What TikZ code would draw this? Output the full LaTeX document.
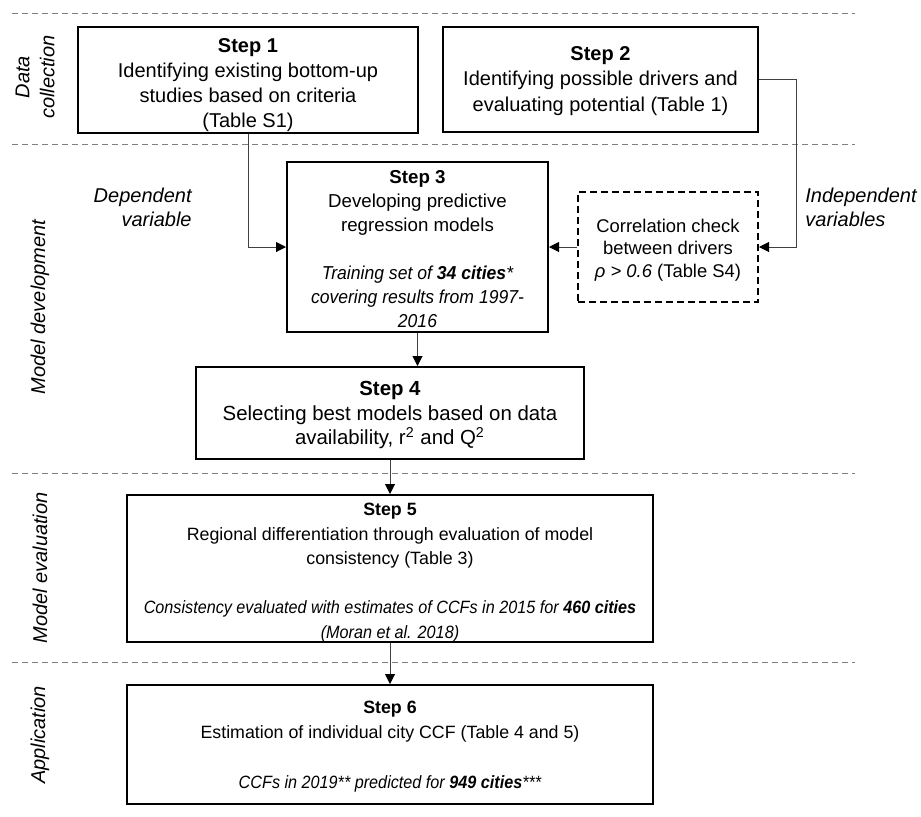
\documentclass[tikz,border=0pt]{standalone}
\usepackage{fontspec}
\setmainfont{Liberation Sans}
\newfontfamily\narrowfont{Liberation Sans}[FakeStretch=0.91]
\newfontfamily\trainfont{Liberation Sans}[FakeStretch=0.94]
\newcommand{\narrowit}[1]{{\narrowfont\itshape #1}}
\newcommand{\trainit}[1]{{\trainfont\itshape #1}}
\newcommand{\topstrut}[1]{\rule{0pt}{#1}}
\usetikzlibrary{arrows.meta}

\begin{document}
\begin{tikzpicture}[x=0.5pt,y=-0.5pt,font=\fontsize{9.2}{12.2}\selectfont,
    >={Triangle[length=5pt,width=5pt,color=black]}]
    \tikzstyle{stepbox}=[draw=black,line width=1pt,align=center,inner sep=0pt]
    \tikzstyle{checkbox}=[stepbox,dash pattern=on 3.5pt off 2pt]
    \tikzstyle{phase}=[rotate=90,align=center,font=\fontsize{10}{12.5}\selectfont\itshape]
    \tikzstyle{annot}=[align=left,inner sep=0pt,font=\fontsize{10}{12}\selectfont\itshape]
    \tikzstyle{link}=[->,draw=black!75,line width=0.5pt]
    \tikzstyle{sep}=[draw=black!50,dash pattern=on 3pt off 2pt,line width=0.5pt]

    \useasboundingbox (0,0) rectangle (921,816);

    % Phase separators
    \foreach \y in {13,144,473,662}
        \draw[sep] (12,\y) -- (855,\y);

    % Phase labels
    \node[phase] (pdata) at (35,77) {Data\\collection};
    \node[phase] (pdev) at (40,307) {Model development};
    \node[phase] (peval) at (40,568) {Model evaluation};
    \node[phase] (papp) at (40,735) {Application};

    % Steps
    \node[stepbox,minimum width=170pt,minimum height=53pt,font=\fontsize{10}{12.5}\selectfont] (s1) at (248,80)
        {\topstrut{12pt}\textbf{Step 1}\\Identifying existing bottom-up\\studies based on criteria\\(Table S1)};
    \node[stepbox,minimum width=157.5pt,minimum height=52.5pt,font=\fontsize{10}{12.75}\selectfont] (s2) at (600.5,79.5)
        {\topstrut{8.5pt}\textbf{Step 2}\\Identifying possible drivers and\\evaluating potential (Table 1)};
    \node[stepbox,minimum width=130.5pt,minimum height=85pt,font=\fontsize{9.35}{12}\selectfont] (s3) at (417.5,247)
        {\topstrut{8.7pt}\textbf{Step 3}\\Developing predictive\\regression models\\[12pt]
         \trainit{Training set of \textbf{34 cities}*}\\\trainit{covering results from 1997-}\\\trainit{2016}};
    \node[checkbox,minimum width=90pt,minimum height=55pt,font=\fontsize{9.2}{11.3}\selectfont] (corr) at (668,247)
        {\topstrut{9.6pt}Correlation check\\between drivers\\\textit{ρ > 0.6} (Table S4)};
    \node[stepbox,minimum width=194pt,minimum height=46pt,font=\fontsize{10.2}{12.25}\selectfont] (s4) at (390,413)
        {\topstrut{9.3pt}\textbf{Step 4}\\Selecting best models based on data\\availability, r\textsuperscript{2} and Q\textsuperscript{2}};
    \node[stepbox,minimum width=263pt,minimum height=73.5pt,font=\fontsize{8.9}{12.25}\selectfont] (s5) at (390,568.5)
        {\topstrut{10.4pt}\textbf{Step 5}\\Regional differentiation through evaluation of model\\consistency (Table 3)\\[12.25pt]
         \narrowit{Consistency evaluated with estimates of CCFs in 2015 for \textbf{460 cities}}\\\narrowit{(Moran et al. 2018)}};
    \node[stepbox,minimum width=263pt,minimum height=59.5pt,font=\fontsize{8.9}{12.5}\selectfont] (s6) at (390,744.5)
        {\topstrut{8.4pt}\textbf{Step 6}\\Estimation of individual city CCF (Table 4 and 5)\\[12.5pt]
         \narrowit{CCFs in 2019** predicted for \textbf{949 cities}***}};

    % Variable annotations
    \node[annot,align=right,anchor=east] (dep) at (192,207) {Dependent\\variable};
    \node[annot,anchor=west] (indep) at (805,207) {Independent\\variables};

    % Connections
    \draw[link] (s1.south) |- (s3.west);
    \draw[link] (s2.east) -- ++(37,0) |- (corr.east);
    \draw[link] (corr.west) -- (s3.east);
    \draw[link] (s3.south) -- (s3.south |- s4.north);
    \draw[link] (s4) -- (s5);
    \draw[link] (s5) -- (s6);
\end{tikzpicture}
\end{document}
